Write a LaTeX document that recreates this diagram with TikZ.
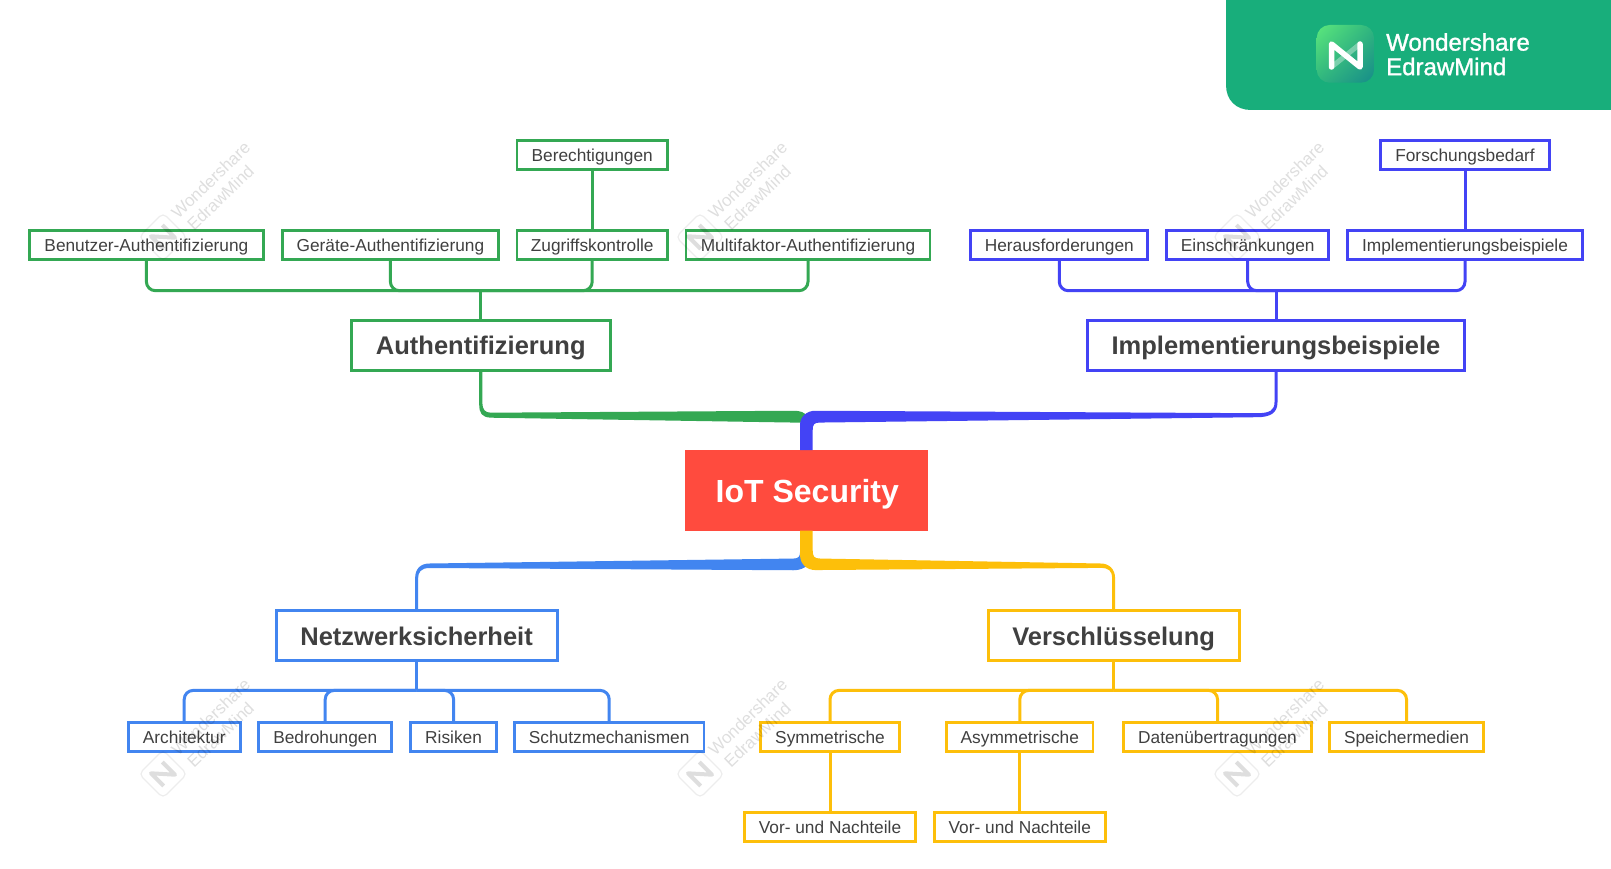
\documentclass[tikz,border=0pt]{standalone}
\usepackage{fontspec}
\setmainfont{Liberation Sans}
\newfontfamily\brandfont[FakeBold=1.2]{Liberation Sans}
\usetikzlibrary{calc,shadings}
\definecolor{cgreen}{HTML}{34A853}
\definecolor{cindigo}{HTML}{4343F5}
\definecolor{cblue}{HTML}{4285F0}
\definecolor{cyellow}{HTML}{FDBF0A}
\definecolor{cred}{HTML}{FF4B3E}
\definecolor{ctext}{HTML}{404040}
\definecolor{cbrand}{HTML}{18AE7B}
\definecolor{logoa}{HTML}{5CE87C}
\definecolor{logob}{HTML}{2FB57E}
\definecolor{logoc}{HTML}{168C8A}
\tikzset{
  smallbox/.style={draw=#1,line width=2.8pt,fill=white,inner sep=0pt,outer sep=0pt,minimum height=29pt,text height=13pt,text depth=0pt,text=ctext,font=\fontsize{17.3}{20}\selectfont},
  bigbox/.style={draw=#1,line width=2.8pt,fill=white,inner sep=0pt,outer sep=0pt,minimum height=50pt,text height=19.5pt,text depth=0pt,text=ctext,font=\fontsize{25.5}{30}\selectfont\bfseries},
  rootbox/.style={fill=cred,inner sep=0pt,outer sep=0pt,minimum height=80.5pt,minimum width=243pt,text height=24pt,text depth=0pt,text=white,font=\fontsize{32}{38}\selectfont\bfseries},
  conn/.style={draw=#1,line width=3pt},
  bus/.style={draw=#1,line width=3pt,rounded corners=9pt},
  wmtext/.style={black,opacity=.13,font=\fontsize{17}{19.5}\selectfont,align=left,rotate=44,inner sep=0pt},
  brandtext/.style={white,font=\brandfont\fontsize{24}{24.5}\selectfont,align=left,anchor=west,inner sep=0pt}
}
\begin{document}
\begin{tikzpicture}[x=1pt,y=-1pt]
\useasboundingbox (0,0) rectangle (1611,869);
\fill[white] (0,0) rectangle (1611,869);

% brand banner
\fill[cbrand] (1611,0) -- (1226,0) -- (1226,85) .. controls (1226,100) and (1236,110) .. (1251,110) -- (1611,110) -- cycle;
\begin{scope}
\clip[rounded corners=13pt] (1316.7,25) rectangle (1374,82.7);
\shade[upper left=logoa,upper right=logob,lower left=logob,lower right=logoc] (1316.7,25) rectangle (1374,82.7);
\end{scope}
\draw[white,line width=5.5pt,line join=round,line cap=round] (1331.5,67) -- (1331.5,44) -- (1360,67) -- (1360,44);
\draw[white,opacity=.35,line width=5pt,line cap=round] (1360,44) -- (1331.5,67);
\node[brandtext] (brand) at (1386,54.3) {Wondershare\\EdrawMind};

% nodes
\node[rootbox] (root) at (806.3,490.3) {\hspace*{2pt}IoT Security};

\node[bigbox=cgreen,minimum width=259pt] (auth) at (480.8,345.2) {Authentifizierung};
\node[bigbox=cindigo,minimum width=376.5pt] (impl) at (1276,345.2) {Implementierungsbeispiele};
\node[bigbox=cblue,minimum width=281pt] (netz) at (416.6,635.5) {Netzwerksicherheit};
\node[bigbox=cyellow,minimum width=251pt] (vers) at (1113.6,635.5) {Verschlüsselung};

\node[smallbox=cgreen,minimum width=150.5pt] (bere) at (592.2,155.1) {Berechtigungen};
\node[smallbox=cgreen,minimum width=233.5pt] (benu) at (146.4,244.6) {Benutzer-Authentifizierung};
\node[smallbox=cgreen,minimum width=216.5pt] (gera) at (390.4,244.6) {Geräte-Authentifizierung};
\node[smallbox=cgreen,minimum width=150.5pt] (zugr) at (592.2,244.6) {Zugriffskontrolle};
\node[smallbox=cgreen,minimum width=244pt] (mult) at (808,244.6) {Multifaktor-Authentifizierung};

\node[smallbox=cindigo,minimum width=177pt] (hera) at (1059.3,244.6) {Herausforderungen};
\node[smallbox=cindigo,minimum width=162pt] (eins) at (1247.7,244.6) {Einschränkungen};
\node[smallbox=cindigo,minimum width=235pt] (imps) at (1465,244.6) {Implementierungsbeispiele};
\node[smallbox=cindigo,minimum width=169.5pt] (fors) at (1465,155.1) {Forschungsbedarf};

\node[smallbox=cblue,minimum width=112pt] (arch) at (184.2,736.6) {Architektur};
\node[smallbox=cblue,minimum width=133pt] (bedr) at (325.2,736.6) {Bedrohungen};
\node[smallbox=cblue,minimum width=86pt] (risi) at (453.6,736.6) {Risiken};
\node[smallbox=cblue,minimum width=189.5pt] (schu) at (609.2,736.6) {Schutzmechanismen};

\node[smallbox=cyellow,minimum width=138.5pt] (symm) at (830,736.6) {Symmetrische};
\node[smallbox=cyellow,minimum width=146.5pt] (asym) at (1019.8,736.6) {Asymmetrische};
\node[smallbox=cyellow,minimum width=187.5pt] (date) at (1217.5,736.6) {Datenübertragungen};
\node[smallbox=cyellow,minimum width=154.5pt] (spei) at (1406.5,736.6) {Speichermedien};
\node[smallbox=cyellow,minimum width=171.5pt] (vor1) at (830,826.6) {Vor- und Nachteile};
\node[smallbox=cyellow,minimum width=171pt] (vor2) at (1019.8,826.6) {Vor- und Nachteile};

% bus levels
\coordinate (busG) at (0,290.7);
\coordinate (busI) at (0,290.7);
\coordinate (busN) at (0,690.4);
\coordinate (busV) at (0,690.4);

% thin connectors
\draw[conn=cgreen] (auth.north) -- (auth.north |- busG);
\foreach \c in {benu,gera,zugr,mult} \draw[bus=cgreen] (\c.south) |- (auth.north |- busG);
\draw[conn=cgreen] (bere.south) -- (zugr.north);
\draw[conn=cindigo] (impl.north) -- (impl.north |- busI);
\foreach \c in {hera,eins,imps} \draw[bus=cindigo] (\c.south) |- (impl.north |- busI);
\draw[conn=cindigo] (fors.south) -- (imps.north);
\draw[conn=cblue] (netz.south) -- (netz.south |- busN);
\foreach \c in {arch,bedr,risi,schu} \draw[bus=cblue] (\c.north) |- (netz.south |- busN);
\draw[conn=cyellow] (vers.south) -- (vers.south |- busV);
\foreach \c in {symm,asym,date,spei} \draw[bus=cyellow] (\c.north) |- (vers.south |- busV);
\draw[conn=cyellow] (symm.south) -- (vor1.north);
\draw[conn=cyellow] (asym.south) -- (vor2.north);

% tapered main branches
\fill[cgreen] ($(auth.south)+(-1.6,0)$) -- ($(auth.south)+(-1.6,34)$)
  .. controls ($(auth.south)+(-1.6,43)$) and ($(auth.south)+(1,47)$) .. ($(auth.south)+(10,47.5)$)
  -- ($(root.north)+(-13,-27.5)$) -- ($(root.north)+(2,-27.5)$) -- ($(root.north)+(2,-33)$)
  .. controls ($(root.north)+(-2,-38)$) and ($(root.north)+(-6,-39.3)$) .. ($(root.north)+(-13,-39.3)$)
  -- ($(auth.south)+(10,42.5)$)
  .. controls ($(auth.south)+(4,42.5)$) and ($(auth.south)+(1.6,39)$) .. ($(auth.south)+(1.6,33)$)
  -- ($(auth.south)+(1.6,0)$) -- cycle;
\fill[cindigo] ($(root.north)+(-6.3,0)$) -- ($(root.north)+(-6.3,-25)$)
  .. controls ($(root.north)+(-6.3,-34)$) and ($(root.north)+(1,-39.3)$) .. ($(root.north)+(9,-39.3)$)
  -- ($(impl.south)+(-19,43)$)
  .. controls ($(impl.south)+(-6,43)$) and ($(impl.south)+(-1.5,40)$) .. ($(impl.south)+(-1.5,32)$)
  -- ($(impl.south)+(-1.5,0)$) -- ($(impl.south)+(1.5,0)$) -- ($(impl.south)+(1.5,32)$)
  .. controls ($(impl.south)+(1.5,43)$) and ($(impl.south)+(-6,47)$) .. ($(impl.south)+(-19,47)$)
  -- ($(root.north)+(14,-27.5)$)
  .. controls ($(root.north)+(8,-27.5)$) and ($(root.north)+(6.4,-26)$) .. ($(root.north)+(6.4,-20)$)
  -- ($(root.north)+(6.4,0)$) -- cycle;
\fill[cblue] ($(netz.north)+(-1.5,0)$) -- ($(netz.north)+(-1.5,-32)$)
  .. controls ($(netz.north)+(-1.5,-42)$) and ($(netz.north)+(4,-47)$) .. ($(netz.north)+(13,-47)$)
  -- ($(root.south)+(-13,28)$)
  .. controls ($(root.south)+(-8,28)$) and ($(root.south)+(-6.3,26)$) .. ($(root.south)+(-6.3,22)$)
  -- ($(root.south)+(2,22)$) -- ($(root.south)+(2,34)$)
  .. controls ($(root.south)+(-2,38)$) and ($(root.south)+(-7,39.7)$) .. ($(root.south)+(-13,39.7)$)
  -- ($(netz.north)+(13,-42.5)$)
  .. controls ($(netz.north)+(4,-42.5)$) and ($(netz.north)+(1.5,-38)$) .. ($(netz.north)+(1.5,-32)$)
  -- ($(netz.north)+(1.5,0)$) -- cycle;
\fill[cyellow] ($(root.south)+(-6.3,0)$) -- ($(root.south)+(-6.3,24)$)
  .. controls ($(root.south)+(-6.3,34)$) and ($(root.south)+(1,39.5)$) .. ($(root.south)+(9,39.5)$)
  -- ($(vers.north)+(-13,-42.6)$)
  .. controls ($(vers.north)+(-5,-42.6)$) and ($(vers.north)+(-1.5,-40)$) .. ($(vers.north)+(-1.5,-32)$)
  -- ($(vers.north)+(-1.5,0)$) -- ($(vers.north)+(1.5,0)$) -- ($(vers.north)+(1.5,-32)$)
  .. controls ($(vers.north)+(1.5,-42)$) and ($(vers.north)+(-5,-47)$) .. ($(vers.north)+(-13,-47)$)
  -- ($(root.south)+(14,28)$)
  .. controls ($(root.south)+(8,28)$) and ($(root.south)+(6.4,26)$) .. ($(root.south)+(6.4,20)$)
  -- ($(root.south)+(6.4,0)$) -- cycle;

% watermarks
\foreach \dx/\i in {0/a,537/b,1074/c} \foreach \dy/\j in {0/t,537/u} {
  \node[wmtext] (wm\i\j) at (217.5+\dx,187+\dy) {Wondershare\\\hspace*{3pt}EdrawMind};
  \begin{scope}[shift={(163+\dx,237+\dy)},rotate=45]
    \draw[black,opacity=.07,line width=1.2pt,rounded corners=5pt] (-17,-17) rectangle (17,17);
    \draw[black,opacity=.13,line width=4pt,line join=round] (-8,9) -- (-8,-9) -- (8,9) -- (8,-9);
  \end{scope}
}
\end{tikzpicture}
\end{document}
